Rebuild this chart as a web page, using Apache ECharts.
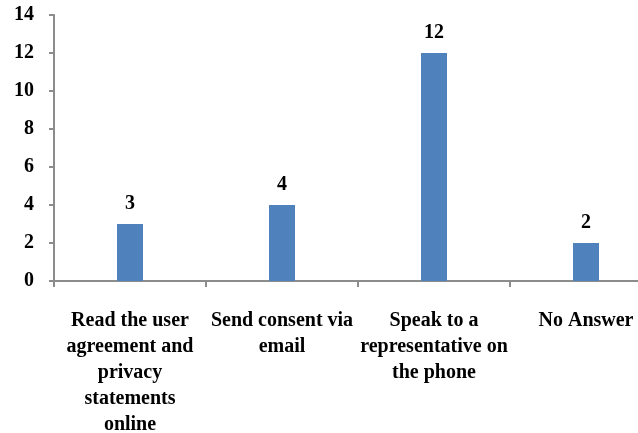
<!DOCTYPE html>
<html>
<head>
<meta charset="utf-8">
<script src="https://cdn.jsdelivr.net/npm/echarts@6/dist/echarts.min.js"></script>
<style>
  html, body { margin: 0; padding: 0; background: #fff; }
  #chart { width: 638px; height: 433px; }
</style>
</head>
<body>
<div id="chart"></div>
<script>
// Survey answers: preferred way of giving consent
const categories = [
  'Read the user\nagreement and\nprivacy\nstatements\nonline',
  'Send consent via\nemail',
  'Speak to a\nrepresentative on\nthe phone',
  'No Answer'
];
const counts = [3, 4, 12, 2];
const yTicks = { min: 0, max: 14, interval: 2 };

const textFont = { fontFamily: 'Liberation Serif', fontWeight: 'bold', color: '#000' };
const axisGray = '#8c8c8c';

const chart = echarts.init(document.getElementById('chart'));
chart.setOption({
  animation: false,
  grid: { left: 54, right: -24, top: 15, bottom: 152, outerBoundsMode: 'none', containLabel: false },
  xAxis: {
    type: 'category',
    data: categories,
    axisLine: { lineStyle: { color: axisGray, width: 2 } },
    axisTick: { show: true, length: 6, lineStyle: { color: axisGray, width: 2 } },
    axisLabel: Object.assign({ interval: 0, fontSize: 20, lineHeight: 26, margin: 27, align: 'center' }, textFont)
  },
  yAxis: {
    type: 'value',
    min: yTicks.min,
    max: yTicks.max,
    interval: yTicks.interval,
    splitLine: { show: false },
    axisLine: { show: true, lineStyle: { color: axisGray, width: 2 } },
    axisTick: { show: true, length: 5, lineStyle: { color: axisGray, width: 2 } },
    axisLabel: Object.assign({ fontSize: 20, margin: 20 }, textFont)
  },
  series: [{
    type: 'bar',
    data: counts,
    barWidth: 26,
    itemStyle: { color: '#4f81bd' },
    label: Object.assign({ show: true, position: 'top', distance: 10, fontSize: 20 }, textFont)
  }]
});
</script>
</body>
</html>
